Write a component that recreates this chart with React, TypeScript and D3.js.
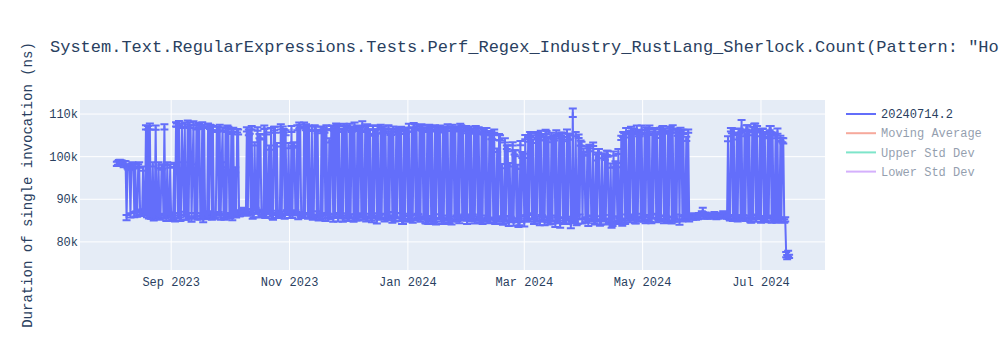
import React from "react";
import * as d3 from "d3";

const TITLE =
  'System.Text.RegularExpressions.Tests.Perf_Regex_Industry_RustLang_Sherlock.Count(Pattern: "Holmes.{0,25}Watson|Watson.{0,25}Holmes", Options: None)';
const Y_TITLE = "Duration of single invocation (ns)";

const START_DATE = "2023-08-04";
const STEP_HOURS = 12;

// duration in thousands of ns, one point every 12 hours from START_DATE
const durationsK = [
  98.3, 98.5, 98.6, 98.8, 98.7, 98.5, 98.4, 98.2, 98.6, 98.4, 85.7, 97.6, 97.4, 97.5, 86.2, 97.9, 98.0, 97.7, 86.4, 98.1,
  86.6, 86.4, 97.8, 98.1, 86.8, 86.5, 86.9, 97.2, 87.0, 86.7, 106.9, 86.4, 106.8, 86.0, 107.1, 86.0, 85.8, 98.2, 85.6, 85.9,
  106.8, 86.3, 86.1, 98.0, 85.7, 85.9, 97.5, 97.7, 86.2, 107.0, 85.9, 85.6, 98.3, 86.5, 86.3, 97.8, 85.4, 85.8, 86.0, 98.1,
  85.5, 107.6, 107.4, 86.1, 107.9, 85.3, 85.6, 107.2, 98.0, 86.7, 107.5, 85.8, 85.6, 108.0, 86.2, 107.4, 107.1, 85.2, 97.6, 107.8,
  86.4, 86.1, 106.9, 85.6, 107.3, 107.0, 86.0, 85.7, 107.6, 85.2, 107.1, 86.3, 86.0, 85.8, 107.4, 86.5, 107.0, 106.8, 85.6, 106.7,
  86.2, 85.9, 86.1, 106.4, 106.6, 86.6, 106.8, 85.7, 98.1, 106.5, 86.1, 85.8, 106.2, 85.9, 106.6, 106.4, 86.4, 86.1, 105.9, 85.6,
  106.3, 86.8, 96.9, 86.2, 106.1, 105.8, 86.5, 86.7, 86.9, 87.2, 87.4, 87.1, 87.0, 86.8, 106.4, 86.6, 105.7, 105.9, 87.1, 106.8,
  86.0, 86.3, 103.0, 87.4, 87.1, 106.5, 86.4, 104.8, 104.6, 86.9, 86.6, 86.8, 106.9, 86.1, 105.9, 87.2, 87.0, 102.1, 86.5, 106.2,
  86.0, 85.8, 106.6, 106.3, 86.8, 102.8, 86.2, 86.4, 86.0, 107.0, 86.6, 106.4, 106.1, 85.9, 105.6, 87.0, 86.8, 102.6, 86.3, 86.1,
  106.5, 86.1, 102.9, 102.7, 86.9, 86.6, 106.8, 85.8, 107.3, 107.1, 86.4, 86.2, 86.0, 107.5, 86.2, 106.9, 106.7, 85.9, 106.7, 86.3,
  86.0, 106.6, 85.7, 85.9, 106.8, 106.5, 86.5, 105.9, 85.5, 85.8, 85.6, 106.6, 86.1, 106.3, 106.0, 85.6, 106.9, 86.2, 86.0, 103.8,
  85.9, 106.7, 106.9, 85.3, 106.5, 86.0, 107.1, 107.0, 85.4, 106.8, 86.3, 86.1, 106.2, 85.2, 107.0, 106.8, 85.8, 106.7, 85.6, 85.4,
  107.2, 86.1, 106.4, 106.6, 85.1, 107.4, 85.9, 85.7, 106.9, 85.5, 106.6, 106.4, 86.2, 107.7, 85.8, 85.6, 106.5, 85.3, 107.0, 106.8,
  86.0, 105.8, 85.4, 85.2, 106.9, 86.3, 105.6, 105.9, 84.9, 106.8, 85.7, 85.9, 107.1, 86.1, 106.3, 106.5, 85.2, 106.0, 85.9, 85.6,
  106.9, 86.4, 105.5, 105.8, 85.0, 106.7, 85.6, 85.3, 106.2, 86.2, 105.8, 106.1, 85.3, 106.5, 84.8, 84.6, 105.9, 86.0, 106.1, 106.3,
  85.4, 107.2, 85.8, 85.6, 106.4, 84.9, 107.3, 107.1, 85.7, 106.6, 86.1, 85.9, 106.9, 85.2, 107.0, 106.7, 85.6, 106.3, 85.0, 84.8,
  106.5, 84.8, 107.0, 106.8, 85.5, 106.4, 85.1, 84.9, 106.9, 84.7, 106.6, 106.4, 85.9, 106.8, 85.2, 85.0, 106.2, 84.8, 106.7, 106.5,
  85.6, 107.1, 85.0, 84.8, 106.5, 84.5, 106.8, 106.6, 85.3, 106.3, 85.7, 85.5, 106.6, 84.9, 107.0, 106.8, 85.4, 106.4, 85.8, 85.6,
  106.7, 84.6, 106.1, 105.9, 85.2, 106.5, 85.9, 85.7, 106.2, 84.8, 106.6, 106.3, 85.5, 106.3, 85.1, 84.9, 106.0, 84.7, 105.8, 105.6,
  85.6, 106.2, 85.2, 85.0, 105.5, 84.9, 104.8, 104.6, 85.1, 106.0, 84.7, 84.9, 101.5, 85.2, 104.6, 104.4, 85.6, 97.8, 84.6, 84.8,
  103.8, 85.5, 102.2, 102.0, 84.2, 98.1, 85.3, 85.1, 103.0, 84.4, 101.0, 100.8, 85.0, 97.6, 84.1, 84.3, 103.2, 85.4, 100.4, 100.2,
  84.3, 104.6, 85.9, 85.7, 104.0, 85.1, 105.2, 105.0, 86.0, 103.6, 84.7, 84.9, 105.4, 85.4, 104.9, 104.7, 84.3, 105.6, 85.7, 85.5,
  104.2, 84.5, 105.8, 105.6, 85.2, 103.9, 84.8, 84.6, 105.1, 85.6, 104.5, 104.3, 84.1, 105.7, 85.3, 85.1, 104.8, 83.9, 105.3, 105.1,
  85.0, 104.1, 84.6, 84.8, 105.9, 85.5, 104.7, 104.5, 83.8, 85.1, 110.3, 85.3, 85.0, 105.3, 84.6, 84.8, 104.8, 85.9, 103.2, 103.0,
  84.8, 101.2, 100.6, 85.2, 85.0, 101.8, 84.4, 102.4, 101.9, 85.7, 85.5, 102.9, 84.9, 84.7, 99.8, 85.5, 101.4, 101.2, 84.3, 84.5,
  100.2, 85.8, 85.6, 99.6, 84.7, 100.9, 100.7, 85.0, 84.8, 97.9, 83.9, 84.1, 100.7, 85.4, 98.2, 98.0, 84.6, 101.2, 85.1, 84.9,
  104.4, 84.2, 105.2, 105.0, 84.6, 106.1, 85.9, 85.7, 105.6, 85.1, 106.4, 106.2, 85.6, 105.9, 84.9, 84.7, 106.6, 85.3, 105.4, 105.2,
  86.0, 106.8, 85.5, 85.3, 105.7, 84.8, 106.2, 106.0, 85.7, 106.9, 85.2, 85.0, 105.5, 86.1, 106.0, 105.8, 85.0, 104.9, 85.8, 85.6,
  106.3, 85.4, 106.7, 106.5, 84.9, 106.2, 85.6, 85.4, 105.8, 85.1, 106.5, 106.3, 84.7, 106.9, 85.3, 85.1, 106.1, 85.8, 105.6, 105.4,
  84.6, 106.3, 105.9, 85.4, 105.8, 85.9, 85.7, 104.2, 85.6, 106.0, 85.1, 85.8, 86.1, 85.7, 85.5, 86.3, 85.9, 85.6, 86.2, 85.7,
  86.5, 85.9, 86.3, 86.8, 87.5, 86.2, 85.8, 86.6, 86.1, 85.7, 86.0, 86.3, 85.9, 86.4, 86.1, 85.8, 86.6, 86.2, 85.7, 86.0,
  85.9, 86.4, 86.1, 85.8, 86.3, 86.9, 86.6, 85.9, 86.2, 85.7, 104.2, 85.7, 85.5, 106.3, 106.1, 85.4, 105.8, 85.9, 85.7, 104.6,
  85.3, 106.1, 106.0, 85.6, 107.2, 85.9, 85.7, 105.4, 85.3, 106.9, 106.7, 85.8, 105.6, 85.1, 84.9, 106.4, 85.7, 107.3, 107.1, 85.2,
  106.6, 85.9, 85.7, 105.4, 85.0, 106.1, 105.9, 85.6, 104.9, 85.3, 85.1, 105.2, 85.8, 106.7, 106.5, 85.1, 105.3, 85.5, 85.3, 104.8,
  85.0, 106.0, 85.4, 85.2, 104.3, 85.0, 103.9, 103.7, 84.9, 85.3, 77.0, 76.4, 77.2, 76.6,
];

// error (std dev) in thousands of ns, one per point
const errorsK = [
  0.5, 0.4, 0.6, 0.5, 0.4, 0.6, 0.5, 0.7, 0.4, 0.5, 0.6, 0.4, 0.5, 0.6, 0.5, 0.4, 0.7, 0.5, 0.6, 0.4,
  0.6, 0.5, 0.4, 0.6, 0.5, 0.4, 0.7, 0.5, 0.6, 0.4, 0.5, 0.6, 0.4, 0.5, 0.7, 0.6, 0.4, 0.5, 0.6, 0.5,
  0.5, 0.6, 0.4, 0.7, 0.5, 0.4, 0.6, 0.5, 0.4, 0.6, 0.5, 0.7, 0.4, 0.5, 0.6, 0.4, 0.5, 0.6, 0.7, 0.5,
  0.7, 0.5, 0.4, 0.6, 0.5, 0.4, 0.6, 0.5, 0.7, 0.4, 0.5, 0.6, 0.4, 0.5, 0.6, 0.7, 0.4, 0.5, 0.6, 0.5,
  0.4, 0.6, 0.5, 0.4, 0.6, 0.5, 0.7, 0.4, 0.5, 0.6, 0.4, 0.5, 0.6, 0.5, 0.4, 0.7, 0.5, 0.6, 0.4, 0.5,
  0.6, 0.5, 0.4, 0.6, 0.5, 0.4, 0.7, 0.5, 0.6, 0.4, 0.5, 0.6, 0.4, 0.5, 0.7, 0.6, 0.4, 0.5, 0.6, 0.5,
  0.5, 0.4, 0.6, 0.5, 0.4, 0.6, 0.5, 0.7, 0.4, 0.5, 0.6, 0.4, 0.5, 0.6, 0.5, 0.4, 0.7, 0.5, 0.6, 0.4,
  0.6, 0.5, 0.4, 0.6, 0.5, 0.4, 0.7, 0.5, 0.6, 0.4, 0.5, 0.6, 0.4, 0.5, 0.7, 0.6, 0.4, 0.5, 0.6, 0.5,
  0.5, 0.6, 0.4, 0.7, 0.5, 0.4, 0.6, 0.5, 0.4, 0.6, 0.5, 0.7, 0.4, 0.5, 0.6, 0.4, 0.5, 0.6, 0.7, 0.5,
  0.7, 0.5, 0.4, 0.6, 0.5, 0.4, 0.6, 0.5, 0.7, 0.4, 0.5, 0.6, 0.4, 0.5, 0.6, 0.7, 0.4, 0.5, 0.6, 0.5,
  0.4, 0.6, 0.5, 0.4, 0.6, 0.5, 0.7, 0.4, 0.5, 0.6, 0.4, 0.5, 0.6, 0.5, 0.4, 0.7, 0.5, 0.6, 0.4, 0.5,
  0.6, 0.5, 0.4, 0.6, 0.5, 0.4, 0.7, 0.5, 0.6, 0.4, 0.5, 0.6, 0.4, 0.5, 0.7, 0.6, 0.4, 0.5, 0.6, 0.5,
  0.5, 0.4, 0.6, 0.5, 0.4, 0.6, 0.5, 0.7, 0.4, 0.5, 0.6, 0.4, 0.5, 0.6, 0.5, 0.4, 0.7, 0.5, 0.6, 0.4,
  0.6, 0.5, 0.4, 0.6, 0.5, 0.4, 0.7, 0.5, 0.6, 0.4, 0.5, 0.6, 0.4, 0.5, 0.7, 0.6, 0.4, 0.5, 0.6, 0.5,
  0.5, 0.6, 0.4, 0.7, 0.5, 0.4, 0.6, 0.5, 0.4, 0.6, 0.5, 0.7, 0.4, 0.5, 0.6, 0.4, 0.5, 0.6, 0.7, 0.5,
  0.7, 0.5, 0.4, 0.6, 0.5, 0.4, 0.6, 0.5, 0.7, 0.4, 0.5, 0.6, 0.4, 0.5, 0.6, 0.7, 0.4, 0.5, 0.6, 0.5,
  0.4, 0.6, 0.5, 0.4, 0.6, 0.5, 0.7, 0.4, 0.5, 0.6, 0.4, 0.5, 0.6, 0.5, 0.4, 0.7, 0.5, 0.6, 0.4, 0.5,
  0.6, 0.5, 0.4, 0.6, 0.5, 0.4, 0.7, 0.5, 0.6, 0.4, 0.5, 0.6, 0.4, 0.5, 0.7, 0.6, 0.4, 0.5, 0.6, 0.5,
  0.5, 0.4, 0.6, 0.5, 0.4, 0.6, 0.5, 0.7, 0.4, 0.5, 0.6, 0.4, 0.5, 0.6, 0.5, 0.4, 0.7, 0.5, 0.6, 0.4,
  0.6, 0.5, 0.4, 0.6, 0.5, 0.4, 0.7, 0.5, 0.6, 0.4, 0.5, 0.6, 0.4, 0.5, 0.7, 0.6, 0.4, 0.5, 0.6, 0.5,
  0.5, 0.6, 0.4, 0.7, 0.5, 0.4, 0.6, 0.5, 0.4, 0.6, 0.5, 0.7, 0.4, 0.5, 0.6, 0.4, 0.5, 0.6, 0.7, 0.5,
  0.7, 0.5, 0.4, 0.6, 0.5, 0.4, 0.6, 0.5, 0.7, 0.4, 0.5, 0.6, 0.4, 0.5, 0.6, 0.7, 0.4, 0.5, 0.6, 0.5,
  0.4, 0.6, 0.5, 0.4, 0.6, 0.5, 0.7, 0.4, 0.5, 0.6, 0.4, 0.5, 0.6, 0.5, 0.4, 0.7, 0.5, 0.6, 0.4, 0.5,
  0.6, 0.5, 0.4, 0.6, 0.5, 0.4, 0.7, 0.5, 0.6, 0.4, 1.0, 0.6, 0.4, 0.5, 0.7, 0.6, 0.4, 0.5, 0.6, 0.5,
  0.5, 0.7, 0.4, 0.6, 0.5, 0.6, 0.7, 0.4, 0.6, 0.5, 0.6, 0.4, 0.5, 0.6, 0.7, 0.5, 0.4, 0.6, 0.5, 0.4,
  0.6, 0.5, 0.7, 0.4, 0.6, 0.5, 0.7, 0.4, 0.6, 0.5, 0.6, 0.4, 0.5, 0.6, 0.7, 0.5, 0.4, 0.6, 0.5, 0.4,
  0.5, 0.4, 0.6, 0.5, 0.4, 0.6, 0.5, 0.7, 0.4, 0.5, 0.6, 0.4, 0.5, 0.6, 0.5, 0.4, 0.7, 0.5, 0.6, 0.4,
  0.6, 0.5, 0.4, 0.6, 0.5, 0.4, 0.7, 0.5, 0.6, 0.4, 0.5, 0.6, 0.4, 0.5, 0.7, 0.6, 0.4, 0.5, 0.6, 0.5,
  0.5, 0.6, 0.4, 0.7, 0.5, 0.4, 0.6, 0.5, 0.4, 0.6, 0.5, 0.7, 0.4, 0.5, 0.6, 0.4, 0.5, 0.6, 0.7, 0.5,
  0.6, 0.5, 0.4, 0.6, 0.5, 0.4, 0.6, 0.5, 0.3, 0.4, 0.3, 0.4, 0.3, 0.4, 0.3, 0.4, 0.3, 0.4, 0.3, 0.4,
  0.3, 0.4, 0.3, 0.4, 0.5, 0.3, 0.4, 0.3, 0.4, 0.3, 0.4, 0.3, 0.4, 0.3, 0.4, 0.3, 0.4, 0.3, 0.4, 0.3,
  0.4, 0.3, 0.4, 0.3, 0.4, 0.3, 0.4, 0.3, 0.4, 0.3, 0.6, 0.4, 0.5, 0.4, 0.6, 0.5, 0.7, 0.4, 0.5, 0.6,
  0.5, 0.4, 0.6, 0.5, 1.4, 0.4, 0.5, 0.6, 0.4, 0.5, 0.7, 0.4, 0.6, 0.5, 0.4, 0.6, 0.5, 0.4, 0.7, 0.5,
  0.6, 0.5, 0.4, 0.6, 0.5, 0.4, 0.7, 0.5, 0.6, 0.4, 0.5, 0.6, 0.4, 0.5, 0.7, 0.6, 0.4, 0.5, 0.6, 0.5,
  0.5, 0.6, 0.4, 0.5, 0.6, 0.4, 0.5, 0.6, 0.4, 0.5, 0.6, 0.5, 0.7, 0.4,
];

const yTicks = [80000, 90000, 100000, 110000];
const xTicks = ["2023-09-01", "2023-11-01", "2024-01-01", "2024-03-01", "2024-05-01", "2024-07-01"];
const xDomain = ["2023-07-16", "2024-08-03"];
const yDomain = [73400, 113300];

const legendNames = ["20240714.2", "Moving Average", "Upper Std Dev", "Lower Std Dev"];
const legendColors = ["#636efa", "#EF553B", "#00cc96", "#ab63fa"];
const legendVisible = [true, false, false, false];

const W = 1000;
const H = 350;
const M = { left: 80, right: 175, top: 100, bottom: 80 };
const FONT = '"Courier New", "Liberation Mono", monospace';
const TEXT = "#2a3f5f";

export default function App() {
  const parse = d3.utcParse("%Y-%m-%d");
  const start = parse(START_DATE) as Date;
  const x = d3
    .scaleUtc()
    .domain(xDomain.map((s) => parse(s) as Date))
    .range([M.left, W - M.right]);
  const y = d3.scaleLinear().domain(yDomain).range([H - M.bottom, M.top]);

  const pts = durationsK.map((v, i) => ({
    date: d3.utcHour.offset(start, i * STEP_HOURS),
    value: v * 1000,
    err: (errorsK[i] ?? 0.5) * 1000,
  }));

  const line = d3
    .line<{ date: Date; value: number }>()
    .x((d) => x(d.date))
    .y((d) => y(d.value));

  const fmtX = d3.utcFormat("%b %Y");
  const fmtY = (v: number) => `${v / 1000}k`;
  const color = legendColors[0];
  const capHalf = 4;

  return (
    <svg
      width={W}
      height={H}
      style={{ position: "absolute", left: 0, top: 0, background: "#fff" }}
      fontFamily={FONT}
    >
      <defs>
        <clipPath id="plotclip">
          <rect x={M.left} y={M.top} width={W - M.left - M.right} height={H - M.top - M.bottom} />
        </clipPath>
      </defs>
      <rect x={M.left} y={M.top} width={W - M.left - M.right} height={H - M.top - M.bottom} fill="#e5ecf6" />
      {xTicks.map((t) => {
        const px = x(parse(t) as Date);
        return <line key={t} x1={px} x2={px} y1={M.top} y2={H - M.bottom} stroke="#fff" strokeWidth={1} />;
      })}
      {yTicks.map((t) => (
        <line key={t} x1={M.left} x2={W - M.right} y1={y(t)} y2={y(t)} stroke="#fff" strokeWidth={1} />
      ))}
      <g clipPath="url(#plotclip)">
        <g stroke={color} strokeWidth={2} fill="none">
          {pts.map((p, i) => {
            const px = x(p.date);
            const y0 = y(p.value - p.err);
            const y1 = y(p.value + p.err);
            return (
              <path
                key={i}
                d={`M${px},${y0}V${y1}M${px - capHalf},${y1}H${px + capHalf}M${px - capHalf},${y0}H${px + capHalf}`}
              />
            );
          })}
        </g>
        <path d={line(pts) || ""} stroke={color} strokeWidth={2} fill="none" strokeLinejoin="round" />
      </g>
      {yTicks.map((t) => (
        <text key={t} x={M.left - 2} y={y(t)} dy="0.35em" textAnchor="end" fontSize={12} fill={TEXT}>
          {fmtY(t)}
        </text>
      ))}
      {xTicks.map((t) => (
        <text key={t} x={x(parse(t) as Date)} y={H - M.bottom + 16} textAnchor="middle" fontSize={12} fill={TEXT}>
          {fmtX(parse(t) as Date)}
        </text>
      ))}
      <text
        transform={`translate(32,${(M.top + H - M.bottom) / 2}) rotate(-90)`}
        textAnchor="middle"
        fontSize={14}
        fill={TEXT}
      >
        {Y_TITLE}
      </text>
      <text x={50} y={52} fontSize={17} fill={TEXT}>
        {TITLE}
      </text>
      {legendNames.map((n, i) => (
        <g key={n} opacity={legendVisible[i] ? 1 : 0.5} transform={`translate(846,${114 + i * 19.2})`}>
          <line x1={0} x2={30} y1={0} y2={0} stroke={legendColors[i]} strokeWidth={2} />
          <text x={35} y={0} dy="0.35em" fontSize={12} fill={TEXT}>
            {n}
          </text>
        </g>
      ))}
    </svg>
  );
}
